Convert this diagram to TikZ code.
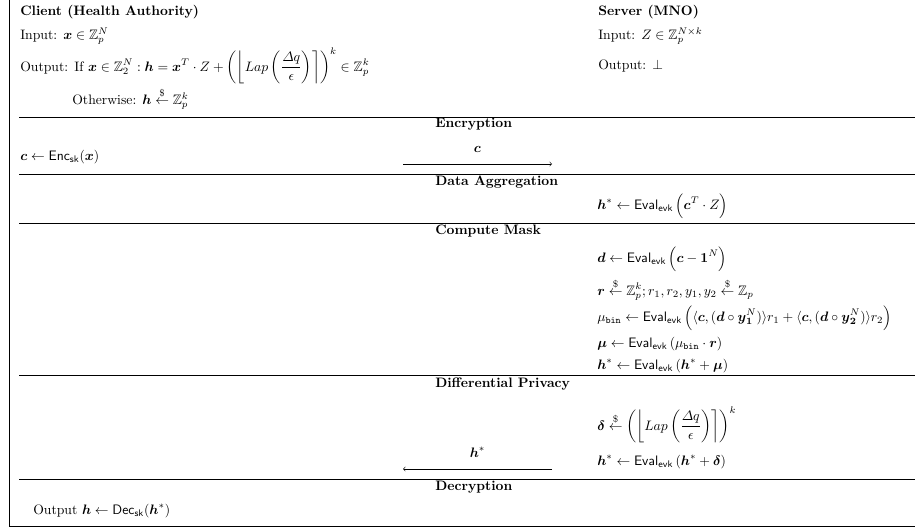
\documentclass[tikz,border=0pt]{standalone}
\usepackage{amsmath,amssymb}
\newcommand{\vb}[1]{\boldsymbol{#1}}
\newcommand{\evk}{\mathsf{Eval}_{\mathsf{evk}}}
\newcommand{\rnd}{\overset{\$}{\leftarrow}}
\newcommand{\lapnoise}{\left(\left\lfloor Lap\left(\dfrac{\varDelta q}{\epsilon}\right)\right\rceil\right)^k}
\begin{document}
\begin{tikzpicture}[x=0.73pt,y=-0.73pt]
\tikzstyle{every node}+=[inner sep=0pt]
\tikzset{txt/.style={anchor=west},
  title/.style={anchor=west,font=\bfseries},
  rule/.style={line width=0.6pt}}
\useasboundingbox (0,0) rectangle (915,529);
% frame and rules
\draw [rule] (9,0) -- (9,526) -- (915,526);
\foreach \y in {117,174,223,375,479}
  \draw [rule] (19,\y) -- (915,\y);
% client and server
\draw (20,12) node [title] (client) {Client (Health Authority)};
\draw (20,36) node [txt] (cin) {Input: $\vb{x} \in \mathbb{Z}_p^N$};
\draw (20,66) node [txt] (cout) {Output: If $\displaystyle \vb{x} \in \mathbb{Z}_2^N : \vb{h} = \vb{x}^T \cdot Z + \lapnoise \in \mathbb{Z}_p^k$};
\draw (72,99) node [txt] (cother) {Otherwise: $\vb{h} \rnd \mathbb{Z}_p^k$};
\draw (598,12) node [title] (server) {Server (MNO)};
\draw (598,36) node [txt] (sin) {Input: $Z \in \mathbb{Z}_p^{N \times k}$};
\draw (598,66) node [txt] (sout) {Output: $\perp$};
% encryption
\draw (435,124) node [title] (tenc) {Encryption};
\draw (20,157) node [txt] (enc) {$\vb{c} \leftarrow \mathsf{Enc}_{\mathsf{sk}}(\vb{x})$};
\coordinate (c1) at (403,164);
\coordinate (c2) at (552,164);
\draw [->] (c1) -- (c2) node [midway,above=8pt] (lc) {$\vb{c}$};
% data aggregation
\draw (435,182) node [title] (tagg) {Data Aggregation};
\draw (597,206) node [txt] (agg) {$\displaystyle \vb{h}^* \leftarrow \evk\,\Big(\vb{c}^T \cdot Z\Big)$};
% compute mask
\draw (435,231) node [title] (tmask) {Compute Mask};
\draw (597,259) node [txt] (md) {$\displaystyle \vb{d} \leftarrow \evk\,\Big(\vb{c} - \vb{1}^N\Big)$};
\draw (597,290) node [txt] (mr) {$\displaystyle \vb{r} \rnd \mathbb{Z}_p^k; r_1, r_2, y_1, y_2 \rnd \mathbb{Z}_p$};
\draw (597,318) node [txt] (mbin) {$\displaystyle \mu_{\mathtt{bin}} \leftarrow \evk\,\Big(\langle \vb{c}, (\vb{d} \circ \vb{y}_{\vb{1}}^N) \rangle r_1 + \langle \vb{c}, (\vb{d} \circ \vb{y}_{\vb{2}}^N) \rangle r_2\Big)$};
\draw (597,344) node [txt] (mmu) {$\displaystyle \vb{\mu} \leftarrow \evk\left(\mu_{\mathtt{bin}} \cdot \vb{r}\right)$};
\draw (597,366) node [txt] (mh) {$\displaystyle \vb{h}^* \leftarrow \evk\left(\vb{h}^* + \vb{\mu}\right)$};
% differential privacy
\draw (435,384) node [title] (tdp) {Differential Privacy};
\draw (597,425) node [txt] (dpd) {$\displaystyle \vb{\delta} \rnd \lapnoise$};
\draw (597,462) node [txt] (dph) {$\displaystyle \vb{h}^* \leftarrow \evk\left(\vb{h}^* + \vb{\delta}\right)$};
\coordinate (h1) at (552,469);
\coordinate (h2) at (403,469);
\draw [->] (h1) -- (h2) node [midway,above=8pt] (lh) {$\vb{h}^*$};
% decryption
\draw (435,487) node [title] (tdec) {Decryption};
\draw (33,511) node [txt] (dec) {Output $\vb{h} \leftarrow \mathsf{Dec}_{\mathsf{sk}}(\vb{h}^*)$};
\end{tikzpicture}
\end{document}
